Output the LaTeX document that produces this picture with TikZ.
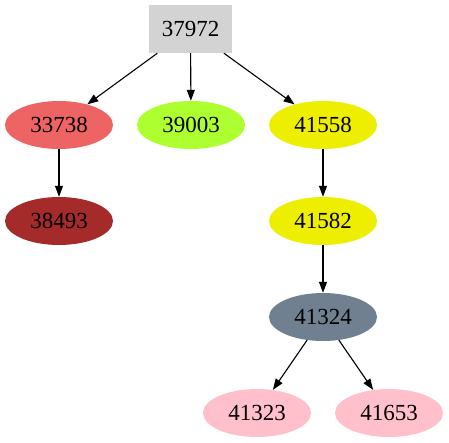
\documentclass[tikz,border=0pt]{standalone}
\usepackage{fontspec}
\setmainfont{Liberation Serif}
\usetikzlibrary{shapes.geometric,arrows.meta}
\definecolor{cIndian}{HTML}{EE6363}
\definecolor{cGreenY}{HTML}{ADFF2F}
\definecolor{cYel}{HTML}{EEEE00}
\definecolor{cBrown}{HTML}{A52A2A}
\definecolor{cSlate}{HTML}{708090}
\definecolor{cPink}{HTML}{FFC0CB}
\definecolor{cGray}{HTML}{D3D3D3}
\begin{document}
\begin{tikzpicture}[x=1pt,y=-1pt,
  every node/.style={font=\fontsize{23}{26}\selectfont, inner sep=0pt},
  ell/.style={ellipse, minimum width=108pt, minimum height=48pt},
  boxnode/.style={rectangle, minimum width=83pt, minimum height=48pt, fill=cGray},
  edge/.style={draw=black, line width=1.1pt, -{Triangle[length=11pt,width=8pt]}}]
\useasboundingbox (0,0) rectangle (449,443);
\node[boxnode] (n37972) at (190.5,29) {37972};
\node[ell, fill=cIndian] (n33738) at (59,125) {33738};
\node[ell, fill=cGreenY] (n39003) at (191,125) {39003};
\node[ell, fill=cYel] (n41558) at (323,125) {41558};
\node[ell, fill=cBrown] (n38493) at (59,221) {38493};
\node[ell, fill=cYel] (n41582) at (323,221) {41582};
\node[ell, fill=cSlate] (n41324) at (323,317) {41324};
\node[ell, fill=cPink] (n41323) at (257,413) {41323};
\node[ell, fill=cPink] (n41653) at (389,413) {41653};
\draw[edge] (n37972) -- (n33738);
\draw[edge] (n37972) -- (n39003);
\draw[edge] (n37972) -- (n41558);
\draw[edge] (n33738) -- (n38493);
\draw[edge] (n41558) -- (n41582);
\draw[edge] (n41582) -- (n41324);
\draw[edge] (n41324) -- (n41323);
\draw[edge] (n41324) -- (n41653);
\end{tikzpicture}
\end{document}
